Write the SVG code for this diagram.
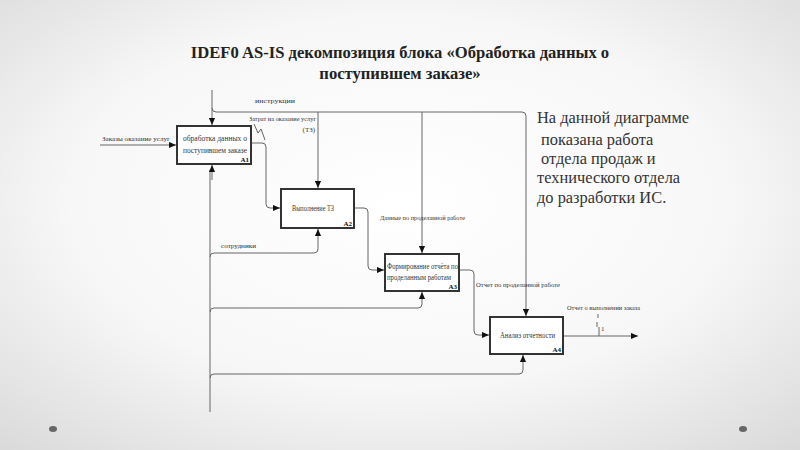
<svg xmlns="http://www.w3.org/2000/svg" width="800" height="450" viewBox="0 0 800 450">
<defs>
<radialGradient id="bg" cx="50%" cy="45%" r="75%">
<stop offset="0" stop-color="#ffffff"/>
<stop offset="0.55" stop-color="#f7f7f7"/>
<stop offset="1" stop-color="#d9d9d9"/>
</radialGradient>
<marker id="ar" viewBox="0 0 8 8" refX="8" refY="4" markerWidth="7" markerHeight="7" orient="auto" markerUnits="userSpaceOnUse">
<path d="M0,0.5 L8,4 L0,7.5 Z" fill="#111"/>
</marker>
<style>
.ln{fill:none;stroke:#666;stroke-width:1}
.box{fill:#ffffff;stroke:#333;stroke-width:2}
text{font-family:'Liberation Serif','DejaVu Serif',serif}
.t{font-size:7px;fill:#333}
.bt{font-size:8px;fill:#333}
.id{font-size:7px;font-weight:bold;fill:#111}
.title{font-size:16.6px;font-weight:bold;fill:#222}
.note{font-size:16.4px;fill:#333}
</style>
</defs>
<rect x="0" y="0" width="800" height="450" fill="url(#bg)"/>
<ellipse cx="53" cy="429" rx="4" ry="3" fill="#666"/>
<ellipse cx="743" cy="429" rx="4" ry="3" fill="#666"/>

<g id="title">
<text class="title" x="400" y="58" text-anchor="middle">IDEF0 AS-IS декомпозиция блока «Обработка данных о</text>
<text class="title" x="400" y="79" text-anchor="middle">поступившем заказе»</text>
</g>

<g id="connectors">
<path class="ln" d="M212,90 L212,125" marker-end="url(#ar)"/>
<path class="ln" d="M212,108 Q212,112 216,112 L522,112 Q526,112 526,116 L526,316" marker-end="url(#ar)"/>
<path class="ln" d="M318,112 L318,188" marker-end="url(#ar)"/>
<path class="ln" d="M422,112 L422,253" marker-end="url(#ar)"/>
<path class="ln" d="M210,412 L210,170"/>
<path class="ln" d="M212,180 L212,165" marker-end="url(#ar)"/>
<path class="ln" d="M210,257 Q210,253 214,253 L314,253 Q318,253 318,249 L318,229" marker-end="url(#ar)"/>
<path class="ln" d="M210,312 Q210,308 214,308 L418,308 Q422,308 422,304 L422,292" marker-end="url(#ar)"/>
<path class="ln" d="M210,378 Q210,374 214,374 L519,374 Q523,374 523,370 L523,355" marker-end="url(#ar)"/>
<path class="ln" d="M100,145 L176,145" marker-end="url(#ar)"/>
<path class="ln" d="M251,143 L262,143 Q266,143 266,147 L266,204 Q266,208 270,208 L280,208" marker-end="url(#ar)"/>
<path class="ln" d="M254,124 L258,133 L261,129 L265,140"/>
<path class="ln" d="M354,208 L364,208 Q368,208 368,212 L368,266 Q368,270 372,270 L384,270" marker-end="url(#ar)"/>
<path class="ln" d="M459,270 L470,270 Q474,270 474,274 L474,331 Q474,335 478,335 L489,335" marker-end="url(#ar)"/>
<path class="ln" d="M563,336 L638,336" marker-end="url(#ar)"/>
<path class="ln" d="M598,314 L598,318 M597,322 L597,327 M599,327 L599,336"/>
</g>

<g id="labels">
<text class="t" x="255" y="103" textLength="40" lengthAdjust="spacingAndGlyphs">инструкции</text>
<text class="t" x="102" y="141" textLength="68" lengthAdjust="spacingAndGlyphs">Заказы оказание услуг</text>
<text class="t" x="249" y="121" textLength="67" lengthAdjust="spacingAndGlyphs">Затрат на оказание услуг</text>
<text class="t" x="315" y="132" text-anchor="end">(ТЗ)</text>
<text class="t" x="221" y="248" textLength="35" lengthAdjust="spacingAndGlyphs">сотрудники</text>
<text class="t" x="380" y="220" textLength="85" lengthAdjust="spacingAndGlyphs">Данные по проделанной работе</text>
<text class="t" x="476" y="287" textLength="84" lengthAdjust="spacingAndGlyphs">Отчет по проделанной работе</text>
<text class="t" x="567" y="310" textLength="73" lengthAdjust="spacingAndGlyphs">Отчет о выполнении заказа</text>
<text class="t" x="601" y="331" font-size="6">1</text>
</g>

<g id="A1">
<rect class="box" x="177" y="126" width="74" height="38"/>
<text class="bt" x="183" y="141" textLength="64" lengthAdjust="spacingAndGlyphs">обработка данных о</text>
<text class="bt" x="183" y="153" textLength="64" lengthAdjust="spacingAndGlyphs">поступившем заказе</text>
<text class="id" x="249" y="162" text-anchor="end">A1</text>
</g>
<g id="A2">
<rect class="box" x="281" y="189" width="73" height="39"/>
<text class="bt" x="292" y="211" textLength="42" lengthAdjust="spacingAndGlyphs">Выполнение ТЗ</text>
<text class="id" x="352" y="226" text-anchor="end">A2</text>
</g>
<g id="A3">
<rect class="box" x="385" y="254" width="74" height="37"/>
<text class="bt" x="387" y="269" textLength="71" lengthAdjust="spacingAndGlyphs">Формирование отчёта по</text>
<text class="bt" x="387" y="280" textLength="64" lengthAdjust="spacingAndGlyphs">проделанным работам</text>
<text class="id" x="457" y="289" text-anchor="end">A3</text>
</g>
<g id="A4">
<rect class="box" x="490" y="317" width="73" height="37"/>
<text class="bt" x="500" y="338" textLength="55" lengthAdjust="spacingAndGlyphs">Анализ отчетности</text>
<text class="id" x="561" y="352" text-anchor="end">A4</text>
</g>

<g id="note">
<text class="note" x="537" y="123">На данной диаграмме</text>
<text class="note" x="541" y="145">показана работа</text>
<text class="note" x="541" y="164">отдела продаж и</text>
<text class="note" x="537" y="183">технического отдела</text>
<text class="note" x="537" y="203">до разработки ИС.</text>
</g>
</svg>
